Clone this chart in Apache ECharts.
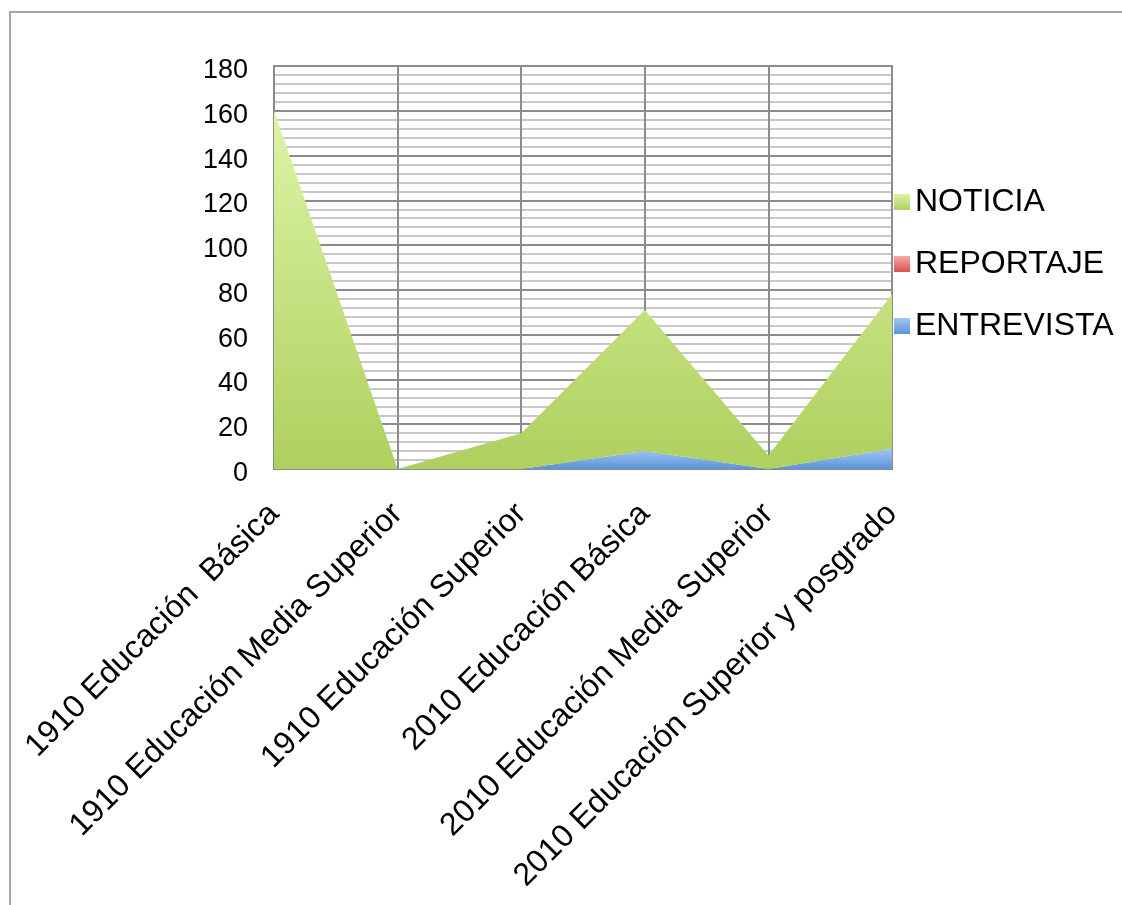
<!DOCTYPE html>
<html>
<head>
<meta charset="utf-8">
<script src="https://cdn.jsdelivr.net/npm/echarts@6/dist/echarts.min.js"></script>
<style>
  html, body { margin: 0; padding: 0; background: #ffffff; }
  #chart { width: 1122px; height: 905px; }
</style>
</head>
<body>
<div id="chart"></div>
<script>
// Categories (level + year)
const categories = [
  '1910 Educación  Básica',
  '1910 Educación Media Superior',
  '1910 Educación Superior',
  '2010 Educación Básica',
  '2010 Educación Media Superior',
  '2010 Educación Superior y posgrado'
];

// Stacked values per genre
const entrevista = [0, 0, 0, 8, 0, 9];
const reportaje  = [0, 0, 0, 0, 0, 0];
const noticia    = [160, 0, 16, 63, 6, 69];

// Y-axis range
const yMin = 0;
const yMax = 180;
const yStep = 20;

const FONT = '"Liberation Sans", Arial, sans-serif';

function vgrad(top, bottom) {
  return new echarts.graphic.LinearGradient(0, 0, 0, 1, [
    { offset: 0, color: top },
    { offset: 1, color: bottom }
  ]);
}

const chart = echarts.init(document.getElementById('chart'), null, { renderer: 'canvas' });

chart.setOption({
  backgroundColor: '#ffffff',
  animation: false,
  graphic: [{
    type: 'rect',
    shape: { x: 10, y: 12, width: 1140, height: 920 },
    style: { fill: 'none', stroke: '#a6a6a6', lineWidth: 2 },
    silent: true,
    z: -10
  }],
  grid: {
    left: 274, right: 230, top: 66, bottom: 436,
    show: true,
    borderColor: '#8c8c8c',
    borderWidth: 2,
    backgroundColor: 'transparent'
  },
  legend: {
    orient: 'vertical',
    left: 889,
    top: 181,
    itemWidth: 16,
    itemHeight: 16,
    itemGap: 30,
    icon: 'rect',
    data: ['NOTICIA', 'REPORTAJE', 'ENTREVISTA'],
    textStyle: { fontFamily: FONT, fontSize: 32, color: '#000000' }
  },
  xAxis: {
    type: 'category',
    data: categories,
    boundaryGap: false,
    axisLine: { show: true, lineStyle: { color: '#8c8c8c', width: 2 } },
    axisTick: { show: false },
    splitLine: { show: true, interval: 0, lineStyle: { color: '#8c8c8c', width: 2 } },
    axisLabel: {
      interval: 0,
      rotate: 45,
      margin: 40,
      color: '#000000',
      formatter: '{c|{value}}',
      rich: {
        c: { fontFamily: FONT, fontSize: 32, color: '#000000', padding: [0, 0, 0, 0] }
      }
    }
  },
  yAxis: {
    type: 'value',
    min: yMin,
    max: yMax,
    interval: yStep,
    axisLine: { show: true, lineStyle: { color: '#8c8c8c', width: 2 } },
    axisTick: { show: false },
    splitLine: { show: true, lineStyle: { color: '#8c8c8c', width: 2 } },
    minorTick: { show: false, splitNumber: 5 },
    minorSplitLine: { show: true, lineStyle: { color: '#c8c8c8', width: 2 } },
    axisLabel: {
      margin: 26,
      color: '#000000',
      formatter: '{v|{value}}',
      rich: {
        v: { fontFamily: FONT, fontSize: 27, color: '#000000', padding: [9, 0, 0, 0] }
      }
    }
  },
  series: [
    {
      name: 'ENTREVISTA',
      type: 'line',
      stack: 'total',
      data: entrevista,
      symbol: 'none',
      lineStyle: { width: 0 },
      itemStyle: { color: vgrad('#a3c6f4', '#5a93d8') },
      areaStyle: { opacity: 1, color: vgrad('#a3c6f4', '#5a93d8') },
      z: 3
    },
    {
      name: 'REPORTAJE',
      type: 'line',
      stack: 'total',
      data: reportaje,
      symbol: 'none',
      lineStyle: { width: 0 },
      itemStyle: { color: vgrad('#f7a8a8', '#d9534f') },
      areaStyle: { opacity: 1, color: vgrad('#f7a8a8', '#d9534f') },
      z: 3
    },
    {
      name: 'NOTICIA',
      type: 'line',
      stack: 'total',
      data: noticia,
      symbol: 'none',
      lineStyle: { width: 0 },
      itemStyle: { color: vgrad('#dcf5a6', '#aed05e') },
      areaStyle: { opacity: 1, color: vgrad('#dcf5a6', '#aed05e') },
      z: 3
    }
  ]
});
</script>
</body>
</html>
